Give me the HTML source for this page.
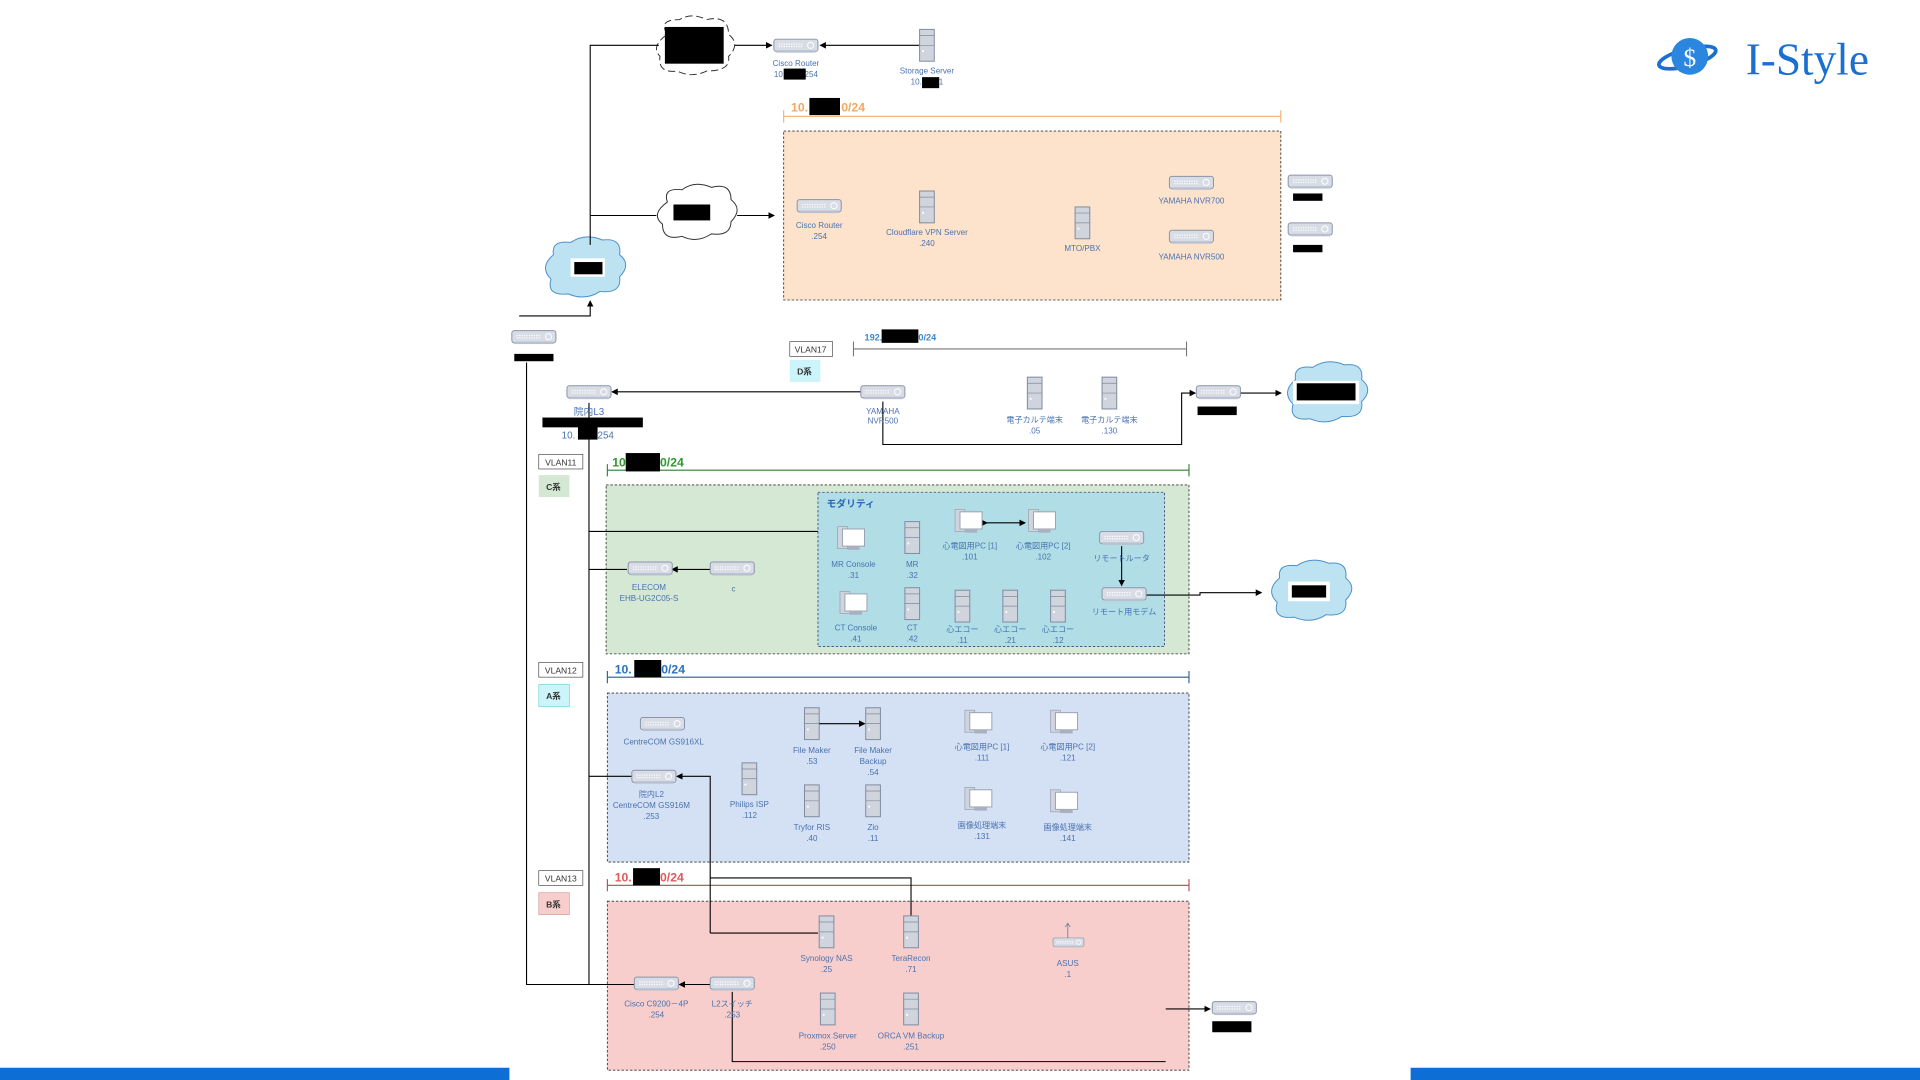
<!DOCTYPE html>
<html><head><meta charset="utf-8"><style>
html,body{margin:0;padding:0;background:#fff;width:1920px;height:1080px;overflow:hidden}
svg{display:block}
text{font-family:"Liberation Sans","Noto Sans CJK JP",sans-serif;font-size:6.6px;fill:#4a72b0;text-anchor:middle}
.b{fill:#000}
text.s{text-anchor:start}
text.h{font-size:10px;font-weight:bold;text-anchor:start}
</style></head><body>
<svg width="1920" height="1080" viewBox="0 0 1568 882" xmlns="http://www.w3.org/2000/svg">
<defs>
<marker id="a" markerWidth="6" markerHeight="6" refX="5" refY="3" orient="auto"><path d="M0,0 L6,3 L0,6 Z" fill="#000"/></marker>
<g id="sw"><rect x="0" y="0" width="36" height="10" rx="2" fill="#d8dce5" stroke="#8a93a8" stroke-width="0.8"/><rect x="2" y="9" width="32" height="2" fill="#b9c0cf"/><path d="M4,4 h20 M4,6 h20" stroke="#fff" stroke-width="1" stroke-dasharray="1 1"/><circle cx="30" cy="5" r="2.5" fill="none" stroke="#fff" stroke-width="0.8"/></g>
<g id="sv"><rect x="0" y="0" width="12" height="26" fill="#d0d4dc" stroke="#7f8aa0" stroke-width="0.8"/><path d="M0,5 h12 M0,13 h12" stroke="#7f8aa0" stroke-width="0.6"/><rect x="2" y="17" width="1.5" height="1.5" fill="#fff"/></g>
<g id="pc"><rect x="0" y="0" width="8" height="18" fill="#d0d4dc" stroke="#9aa2b3" stroke-width="0.6"/><rect x="4" y="2" width="18" height="14" fill="#fff" stroke="#9aa2b3" stroke-width="0.8"/><rect x="8" y="16" width="10" height="3" fill="#a9b0bf"/></g>
</defs>

<g>
<ellipse cx="1378" cy="47" rx="24" ry="7" fill="none" stroke="#1a6fd0" stroke-width="3" transform="rotate(-15 1378 47)"/>
<circle cx="1380" cy="46" r="15" fill="#2a86de"/>
<text x="1380" y="54" style="font-size:21px;fill:#fff;font-family:'Liberation Serif',serif">$</text>
<text x="1476" y="61" style="font-size:37px;fill:#1a6fd0;font-family:'Liberation Serif',serif">I-Style</text>
</g>

<rect x="0" y="872" width="416" height="10" fill="#0d6fd6"/>
<rect x="1152" y="872" width="416" height="10" fill="#0d6fd6"/>

<rect x="640" y="107" width="406" height="138" fill="#fde3cc" stroke="#333" stroke-width="0.7" stroke-dasharray="2 1.5"/>
<rect x="495" y="396" width="476" height="138" fill="#d5e8d4" stroke="#333" stroke-width="0.7" stroke-dasharray="2 1.5"/>
<rect x="668" y="402" width="283" height="126" fill="#b1dde6" stroke="#447" stroke-width="0.7" stroke-dasharray="2 1.5"/>
<rect x="496" y="566" width="475" height="138" fill="#d4e1f4" stroke="#333" stroke-width="0.7" stroke-dasharray="2 1.5"/>
<rect x="496" y="736" width="475" height="138" fill="#f8cecc" stroke="#333" stroke-width="0.7" stroke-dasharray="2 1.5"/>

<g stroke-width="0.9" fill="none">
<path d="M640,90 V100 M640,95 H1046 M1046,90 V100" stroke="#f0b070"/>
<path d="M697,279 V291 M697,285 H969 M969,279 V291" stroke="#777"/>
<path d="M496,379 V389 M496,384 H971 M971,379 V389" stroke="#2e7d32"/>
<path d="M496,548 V558 M496,553 H971 M971,548 V558" stroke="#2a5a8a"/>
<path d="M496,718 V728 M496,723 H971 M971,718 V728" stroke="#a05050"/>
</g>
<text x="646" y="91" class="h" style="fill:#f0a860">10.</text><rect x="661" y="80" width="25" height="14" class="b"/><text x="687" y="91" class="h" style="fill:#f0a860">0/24</text>
<text x="500" y="381" class="h" style="fill:#2a9a2a">10</text><rect x="511" y="370" width="28" height="15" class="b"/><text x="539" y="381" class="h" style="fill:#2a9a2a">0/24</text>
<text x="502" y="550" class="h" style="fill:#2a72c0">10.</text><rect x="518" y="539" width="22" height="14" class="b"/><text x="540" y="550" class="h" style="fill:#2a72c0">0/24</text>
<text x="502" y="720" class="h" style="fill:#e05a5a">10.</text><rect x="517" y="709" width="22" height="14" class="b"/><text x="539" y="720" class="h" style="fill:#e05a5a">0/24</text>
<text x="706" y="278" class="h" style="font-size:7.5px;fill:#3b8ad0">192.</text><rect x="720" y="269" width="30" height="11" class="b"/><text x="750" y="278" class="h" style="font-size:7.5px;fill:#3b8ad0">0/24</text>

<rect x="645" y="279" width="35" height="12" fill="#fff" stroke="#333" stroke-width="0.5"/><text x="662" y="288" style="fill:#333;font-size:7px">VLAN17</text>
<rect x="645" y="294" width="25" height="18" fill="#ccf5fb"/><text x="657" y="306" style="fill:#333;font-weight:bold;font-size:7px">D系</text>
<rect x="440" y="371" width="36" height="12" fill="#fff" stroke="#333" stroke-width="0.5"/><text x="458" y="380" style="fill:#333;font-size:7px">VLAN11</text>
<rect x="440" y="388" width="25" height="18" fill="#d5e8d4"/><text x="452" y="400" style="fill:#333;font-weight:bold;font-size:7px">C系</text>
<rect x="440" y="541" width="36" height="12" fill="#fff" stroke="#333" stroke-width="0.5"/><text x="458" y="550" style="fill:#333;font-size:7px">VLAN12</text>
<rect x="440" y="559" width="25" height="18" fill="#ccf5fb" stroke="#6cc" stroke-width="0.5"/><text x="452" y="571" style="fill:#333;font-weight:bold;font-size:7px">A系</text>
<rect x="440" y="711" width="36" height="12" fill="#fff" stroke="#333" stroke-width="0.5"/><text x="458" y="720" style="fill:#333;font-size:7px">VLAN13</text>
<rect x="440" y="729" width="25" height="18" fill="#f8cecc" stroke="#c99" stroke-width="0.5"/><text x="452" y="741" style="fill:#333;font-weight:bold;font-size:7px">B系</text>

<g stroke-width="0.8">
<path d="M545,28 q-8,-12 10,-12 q10,-6 22,0 q18,-4 18,12 q10,8 0,18 q2,12 -18,12 q-12,6 -24,0 q-16,2 -14,-12 q-8,-8 6,-18 Z" fill="#fff" stroke="#333" stroke-dasharray="6 3"/>
<rect x="543" y="22" width="48" height="30" class="b"/>
<path d="M545,165 q-4,-12 12,-10 q10,-8 24,-2 q16,-4 16,10 q10,8 0,18 q0,12 -16,10 q-12,8 -24,2 q-16,4 -16,-10 q-10,-8 4,-18 Z" fill="#fff" stroke="#333"/>
<rect x="550" y="167" width="30" height="13" class="b"/>
<path d="M452,208 q-2,-12 14,-10 q12,-8 26,-2 q16,-2 14,12 q10,8 0,18 q2,14 -16,12 q-12,8 -26,2 q-18,2 -14,-12 q-10,-10 2,-20 Z" fill="#bde3f3" stroke="#4a90c8"/>
<rect x="466" y="211" width="28" height="15" fill="#fff"/><rect x="469" y="214" width="23" height="10" class="b"/>
<path d="M1058,310 q-2,-12 14,-10 q12,-8 26,-2 q16,-2 14,12 q10,8 0,18 q2,14 -16,12 q-12,8 -26,2 q-18,2 -14,-12 q-10,-10 2,-20 Z" fill="#bde3f3" stroke="#4a90c8"/>
<rect x="1056" y="311" width="54" height="19" fill="#fff"/><rect x="1059" y="313" width="48" height="14" class="b"/>
<path d="M1045,472 q-2,-12 14,-10 q12,-8 26,-2 q16,-2 14,12 q10,8 0,18 q2,14 -16,12 q-12,8 -26,2 q-18,2 -14,-12 q-10,-10 2,-20 Z" fill="#bde3f3" stroke="#4a90c8"/>
<rect x="1052" y="475" width="34" height="16" fill="#fff"/><rect x="1055" y="478" width="28" height="10" class="b"/>
</g>

<g stroke="#000" stroke-width="0.9" fill="none">
<path d="M482,200 V37 H538"/>
<path d="M600,37 H630" marker-end="url(#a)"/>
<path d="M751,37 H670" marker-end="url(#a)"/>
<path d="M482,176 H536"/>
<path d="M602,176 H632" marker-end="url(#a)"/>
<path d="M424,258 H482 V246" marker-end="url(#a)"/>
<path d="M430,296 V804 H518"/>
<path d="M703,320 H500" marker-end="url(#a)"/>
<path d="M721,328 V363 H965 V321 H976" marker-end="url(#a)"/>
<path d="M1012,321 H1046" marker-end="url(#a)"/>
<path d="M481,329 V804"/>
<path d="M481,434 H668"/>
<path d="M481,465 H512"/>
<path d="M580,465 H549" marker-end="url(#a)"/>
<path d="M806,427 H837" marker-end="url(#a)" marker-start="url(#a)"/>
<path d="M916,446 V478" marker-end="url(#a)"/>
<path d="M936,486 H980 V484 H1030" marker-end="url(#a)"/>
<path d="M481,634 H516"/>
<path d="M580,762 H668 M580,762 V634 H553" marker-end="url(#a)"/>
<path d="M580,717 H744 V748"/>
<path d="M670,591 H706" marker-end="url(#a)" marker-start="url(#a)"/>
<path d="M580,804 H555" marker-end="url(#a)"/>
<path d="M598,810 V867 H952"/>
<path d="M952,824 H988" marker-end="url(#a)"/>
</g>

<use href="#sw" x="632" y="32"/>
<text x="650" y="54">Cisco Router</text><text x="650" y="63">10.<tspan dx="14">.254</tspan></text><rect x="640" y="56" width="18" height="9" class="b"/>
<use href="#sv" x="751" y="24"/>
<text x="757" y="60">Storage Server</text><text x="757" y="69">10.<tspan dx="12">.1</tspan></text><rect x="753" y="63" width="14" height="9" class="b"/>

<use href="#sw" x="651" y="163"/><text x="669" y="186">Cisco Router</text><text x="669" y="195">.254</text>
<use href="#sv" x="751" y="156"/><text x="757" y="192">Cloudflare VPN Server</text><text x="757" y="201">.240</text>
<use href="#sv" x="878" y="169"/><text x="884" y="205">MTO/PBX</text>
<use href="#sw" x="955" y="144"/><text x="973" y="166">YAMAHA NVR700</text>
<use href="#sw" x="955" y="188"/><text x="973" y="212">YAMAHA NVR500</text>
<use href="#sw" x="1052" y="143"/><rect x="1056" y="158" width="24" height="6" class="b"/>
<use href="#sw" x="1052" y="182"/><rect x="1056" y="200" width="24" height="6" class="b"/>

<use href="#sw" x="418" y="270"/><rect x="420" y="289" width="32" height="6" class="b"/>
<use href="#sw" x="463" y="315"/><text x="481" y="339" style="font-size:8px">院内L3</text>
<rect x="443" y="341" width="82" height="8" class="b"/>
<text x="480" y="358" style="font-size:8px">10.<tspan dx="16">.254</tspan></text><rect x="472" y="347" width="16" height="12" class="b"/>
<use href="#sw" x="703" y="315"/><text x="721" y="338">YAMAHA</text><text x="721" y="346">NVR500</text>
<use href="#sv" x="839" y="308"/><text x="845" y="345">電子カルテ端末</text><text x="845" y="354">.05</text>
<use href="#sv" x="900" y="308"/><text x="906" y="345">電子カルテ端末</text><text x="906" y="354">.130</text>
<use href="#sw" x="977" y="315"/><rect x="978" y="332" width="32" height="7" class="b"/>

<use href="#sw" x="513" y="459"/><text x="530" y="482">ELECOM</text><text x="530" y="491">EHB-UG2C05-S</text>
<use href="#sw" x="580" y="459"/><text x="599" y="483">c</text>
<text x="675" y="414" style="font-size:8px;font-weight:bold;text-anchor:start;fill:#2a66b8">モダリティ</text>
<use href="#pc" x="684" y="430"/><text x="697" y="463">MR Console</text><text x="697" y="472">.31</text>
<use href="#sv" x="739" y="426"/><text x="745" y="463">MR</text><text x="745" y="472">.32</text>
<use href="#pc" x="780" y="416"/><text x="792" y="448">心電図用PC [1]</text><text x="792" y="457">.101</text>
<use href="#pc" x="840" y="416"/><text x="852" y="448">心電図用PC [2]</text><text x="852" y="457">.102</text>
<use href="#sw" x="898" y="434"/><text x="916" y="458">リモートルータ</text>
<use href="#sw" x="900" y="480"/><text x="918" y="502">リモート用モデム</text>
<use href="#pc" x="686" y="483"/><text x="699" y="515">CT Console</text><text x="699" y="524">.41</text>
<use href="#sv" x="739" y="480"/><text x="745" y="515">CT</text><text x="745" y="524">.42</text>
<use href="#sv" x="780" y="482"/><text x="786" y="516">心エコー</text><text x="786" y="525">.11</text>
<use href="#sv" x="819" y="482"/><text x="825" y="516">心エコー</text><text x="825" y="525">.21</text>
<use href="#sv" x="858" y="482"/><text x="864" y="516">心エコー</text><text x="864" y="525">.12</text>

<use href="#sw" x="523" y="586"/><text x="542" y="608">CentreCOM GS916XL</text>
<use href="#sw" x="516" y="629"/><text x="532" y="651">院内L2</text><text x="532" y="660">CentreCOM GS916M</text><text x="532" y="669">.253</text>
<use href="#sv" x="606" y="623"/><text x="612" y="659">Philips ISP</text><text x="612" y="668">.112</text>
<use href="#sv" x="657" y="578"/><text x="663" y="615">File Maker</text><text x="663" y="624">.53</text>
<use href="#sv" x="707" y="578"/><text x="713" y="615">File Maker</text><text x="713" y="624">Backup</text><text x="713" y="633">.54</text>
<use href="#sv" x="657" y="641"/><text x="663" y="678">Tryfor RIS</text><text x="663" y="687">.40</text>
<use href="#sv" x="707" y="641"/><text x="713" y="678">Zio</text><text x="713" y="687">.11</text>
<use href="#pc" x="788" y="580"/><text x="802" y="612">心電図用PC [1]</text><text x="802" y="621">.111</text>
<use href="#pc" x="858" y="580"/><text x="872" y="612">心電図用PC [2]</text><text x="872" y="621">.121</text>
<use href="#pc" x="788" y="643"/><text x="802" y="676">画像処理端末</text><text x="802" y="685">.131</text>
<use href="#pc" x="858" y="645"/><text x="872" y="678">画像処理端末</text><text x="872" y="687">.141</text>

<use href="#sv" x="669" y="748"/><text x="675" y="785">Synology NAS</text><text x="675" y="794">.25</text>
<use href="#sv" x="738" y="748"/><text x="744" y="785">TeraRecon</text><text x="744" y="794">.71</text>
<g transform="translate(860,766) scale(0.7)"><use href="#sw" x="0" y="0"/></g><path d="M872,766 V755 M870,757 l2,-3 l2,3" stroke="#7f8aa0" stroke-width="0.8" fill="none"/>
<text x="872" y="789">ASUS</text><text x="872" y="798">.1</text>
<use href="#sw" x="518" y="798"/><text x="536" y="822">Cisco C9200－4P</text><text x="536" y="831">.254</text>
<use href="#sw" x="580" y="798"/><text x="598" y="822">L2スイッチ</text><text x="598" y="831">.253</text>
<use href="#sv" x="670" y="811"/><text x="676" y="848">Proxmox Server</text><text x="676" y="857">.250</text>
<use href="#sv" x="738" y="811"/><text x="744" y="848">ORCA VM Backup</text><text x="744" y="857">.251</text>
<use href="#sw" x="990" y="818"/><rect x="990" y="834" width="32" height="9" class="b"/>
</svg>
</body></html>
